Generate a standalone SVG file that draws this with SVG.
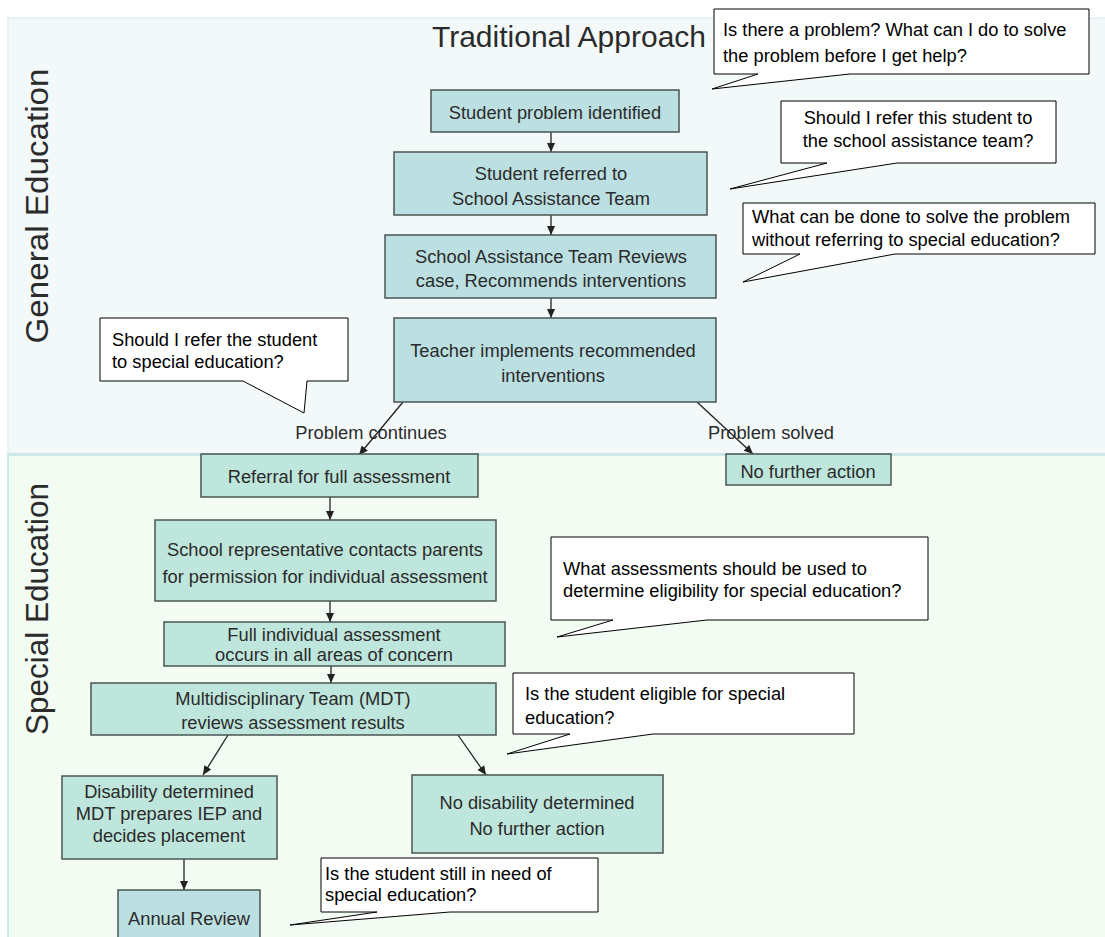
<svg xmlns="http://www.w3.org/2000/svg" width="1105" height="937" viewBox="0 0 1105 937">
<style>
.t{font-family:"Liberation Sans",Arial,sans-serif;font-size:18.3px;fill:#2b2b2b;text-anchor:middle}
.ct{font-family:"Liberation Sans",Arial,sans-serif;font-size:18.3px;fill:#000}
.b1{fill:#bcdfe2;stroke:#4a5652;stroke-width:1.5}
.b2{fill:#bfe6dc;stroke:#4a5652;stroke-width:1.5}
.co{fill:#fff;stroke:#000;stroke-width:1}
.cn{stroke:#222;stroke-width:1.3;fill:none;marker-end:url(#ah)}
.side{font-family:"Liberation Sans",Arial,sans-serif;font-size:32px;fill:#2b2b2b;text-anchor:middle}
</style>
<defs>
<marker id="ah" viewBox="0 0 10 10" refX="10" refY="5" markerWidth="10" markerHeight="9" markerUnits="userSpaceOnUse" orient="auto">
<path d="M0,0.5 L10,5 L0,9.5 z" fill="#222"/>
</marker>
</defs>
<rect x="0" y="0" width="1105" height="937" fill="#ffffff"/>
<g id="panels">
<rect x="8" y="18" width="1098" height="436" fill="#f3f9f9" stroke="#d3e9eb" stroke-width="1"/>
<rect x="8" y="455" width="1098" height="484" fill="#f2fcf2" stroke="#cfe7ea" stroke-width="2"/>
<line x1="8" y1="454.5" x2="1105" y2="454.5" stroke="#cde6e8" stroke-width="3"/>
</g>
<g id="labels">
<text class="side" transform="translate(48,206) rotate(-90)" textLength="275" lengthAdjust="spacingAndGlyphs">General Education</text>
<text class="side" transform="translate(48,609) rotate(-90)" textLength="252" lengthAdjust="spacingAndGlyphs">Special Education</text>
<text x="432" y="47" font-family="Liberation Sans,Arial,sans-serif" font-size="29" fill="#2b2b2b" textLength="274" lengthAdjust="spacingAndGlyphs">Traditional Approach</text>
<text class="t" x="371" y="439">Problem continues</text>
<text class="t" x="771" y="439">Problem solved</text>
</g>
<g id="connectors">
<line class="cn" x1="551" y1="132" x2="551" y2="152"/>
<line class="cn" x1="551" y1="215" x2="551" y2="235"/>
<line class="cn" x1="551" y1="298" x2="551" y2="318"/>
<line class="cn" x1="403" y1="402" x2="359" y2="455"/>
<line class="cn" x1="697" y1="402" x2="753" y2="454"/>
<line class="cn" x1="330" y1="497" x2="330" y2="520"/>
<line class="cn" x1="330" y1="601" x2="330" y2="622"/>
<line class="cn" x1="331" y1="666" x2="331" y2="683"/>
<line class="cn" x1="228" y1="735" x2="203" y2="775"/>
<line class="cn" x1="458" y1="735" x2="486" y2="775"/>
<line class="cn" x1="184" y1="859" x2="184" y2="890"/>
</g>
<g id="n1"><rect class="b1" x="431" y="90" width="248" height="42"/><text class="t" x="555" y="119">Student problem identified</text></g>
<g id="n2"><rect class="b1" x="394" y="152" width="313" height="63"/><text class="t" x="551" y="180">Student referred to</text><text class="t" x="551" y="205">School Assistance Team</text></g>
<g id="n3"><rect class="b1" x="385" y="235" width="331" height="63"/><text class="t" x="551" y="263">School Assistance Team Reviews</text><text class="t" x="551" y="287">case, Recommends interventions</text></g>
<g id="n4"><rect class="b1" x="394" y="318" width="322" height="84"/><text class="t" x="553" y="357">Teacher implements recommended</text><text class="t" x="553" y="382">interventions</text></g>
<g id="n5"><rect class="b2" x="201" y="454" width="277" height="43"/><text class="t" x="339" y="483">Referral for full assessment</text></g>
<g id="n12"><rect class="b2" x="726" y="454" width="165" height="31"/><text class="t" x="808" y="478">No further action</text></g>
<g id="n6"><rect class="b2" x="155" y="520" width="341" height="81"/><text class="t" x="325" y="556">School representative contacts parents</text><text class="t" x="325" y="583">for permission for individual assessment</text></g>
<g id="n7"><rect class="b2" x="164" y="622" width="341" height="44"/><text class="t" x="334" y="641">Full individual assessment</text><text class="t" x="334" y="661">occurs in all areas of concern</text></g>
<g id="n8"><rect class="b2" x="91" y="683" width="405" height="52"/><text class="t" x="293" y="705">Multidisciplinary Team (MDT)</text><text class="t" x="293" y="729">reviews assessment results</text></g>
<g id="n9"><rect class="b2" x="62" y="776" width="215" height="83"/><text class="t" x="169" y="798">Disability determined</text><text class="t" x="169" y="820">MDT prepares IEP and</text><text class="t" x="169" y="842">decides placement</text></g>
<g id="n10"><rect class="b2" x="412" y="775" width="251" height="78"/><text class="t" x="537" y="809">No disability determined</text><text class="t" x="537" y="835">No further action</text></g>
<g id="n11"><rect class="b1" x="118" y="890" width="142" height="60"/><text class="t" x="189" y="925">Annual Review</text></g>
<g id="c1"><path class="co" d="M714,9 H1089 V74 H850 L712,89 L758,74 H714 Z"/><text class="ct" x="723" y="36">Is there a problem? What can I do to solve</text><text class="ct" x="723" y="62">the problem before I get help?</text></g>
<g id="c2"><path class="co" d="M781,101 H1056 V163 H897 L730,189 L827,163 H781 Z"/><text class="ct" x="918" y="124" text-anchor="middle">Should I refer this student to</text><text class="ct" x="918" y="147" text-anchor="middle">the school assistance team?</text></g>
<g id="c3"><path class="co" d="M743,203 H1095 V254 H895 L743,282 L800,254 H743 Z"/><text class="ct" x="752" y="223" font-size="20">What can be done to solve the problem</text><text class="ct" x="752" y="246" font-size="20">without referring to special education?</text></g>
<g id="c4"><path class="co" d="M100,318 H348 V381 H307 L304,413 L243,381 H100 Z"/><text class="ct" x="112" y="346">Should I refer the student</text><text class="ct" x="112" y="368">to special education?</text></g>
<g id="c5"><path class="co" d="M551,537 H928 V620 H707 L557,637 L613,620 H551 Z"/><text class="ct" x="563" y="575">What assessments should be used to</text><text class="ct" x="563" y="597">determine eligibility for special education?</text></g>
<g id="c6"><path class="co" d="M513,673 H854 V734 H653 L507,754 L570,734 H513 Z"/><text class="ct" x="525" y="700">Is the student eligible for special</text><text class="ct" x="525" y="724">education?</text></g>
<g id="c7"><path class="co" d="M321,858 H598 V912 H450 L290,925 L377,912 H321 Z"/><text class="ct" x="325" y="880">Is the student still in need of</text><text class="ct" x="325" y="901">special education?</text></g>
</svg>
